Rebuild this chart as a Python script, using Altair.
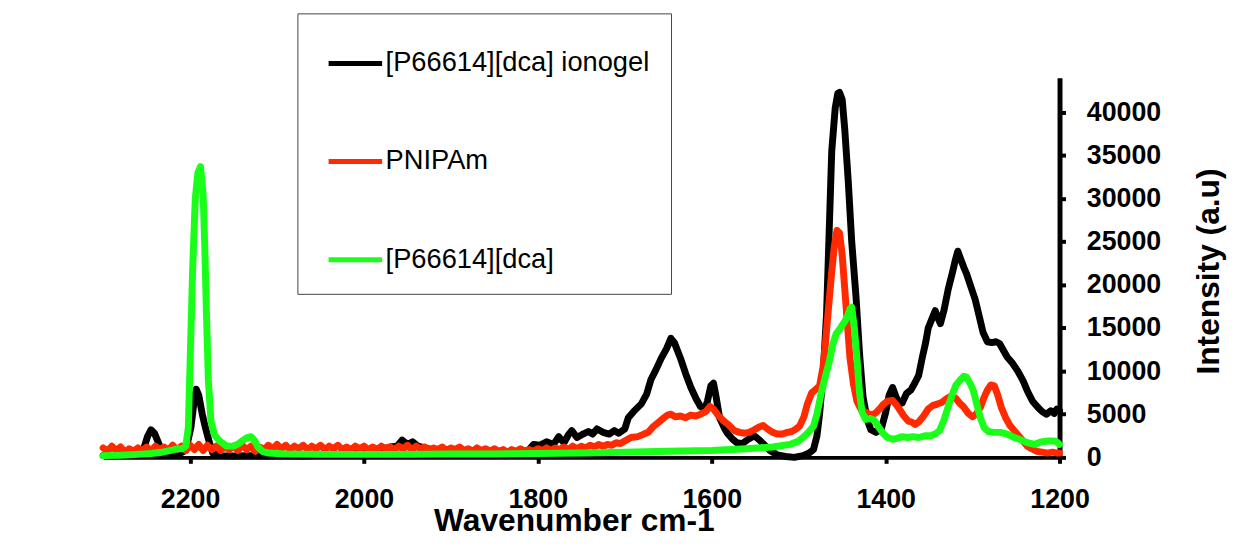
import altair as alt
import pandas as pd

series_names = ["[P66614][dca] ionogel", "PNIPAm", "[P66614][dca]"]
series_colors = ["#000000", "#ff2a00", "#19ff19"]

ionogel_wn = [2300, 2290, 2280, 2270, 2260, 2254, 2249, 2245, 2241, 2236, 2231, 2226, 2215, 2205,
              2199, 2196, 2193, 2190, 2186, 2182, 2178, 2174, 2165, 2150, 2130, 2110, 2090, 2070,
              2050, 2030, 2015, 2007, 2000, 1990, 1980, 1970, 1962, 1956, 1950, 1944, 1938, 1930,
              1922, 1913, 1900, 1880, 1860, 1840, 1820, 1810, 1805, 1798, 1790, 1782, 1776, 1770,
              1765, 1761, 1755, 1748, 1742, 1737, 1732, 1725, 1718, 1712, 1707, 1700, 1696, 1690,
              1681, 1675, 1670, 1664, 1658, 1652, 1647, 1643, 1636, 1630, 1624, 1618, 1613, 1608,
              1605, 1601, 1598, 1595, 1591, 1586, 1582, 1576, 1571, 1565, 1558, 1551, 1545, 1540,
              1533, 1525, 1515, 1505, 1495, 1488, 1483, 1479, 1476, 1472, 1468, 1465, 1462, 1458,
              1455, 1453, 1450, 1447, 1443, 1439, 1434, 1430, 1426, 1421, 1417, 1411, 1405, 1400,
              1396, 1392, 1388, 1384, 1381, 1376, 1371, 1366, 1362, 1358, 1354, 1351, 1347, 1343,
              1340, 1337, 1333, 1328, 1323, 1320, 1317, 1313, 1310, 1307, 1302, 1297, 1292, 1288,
              1283, 1278, 1273, 1269, 1264, 1260, 1254, 1248, 1242, 1237, 1231, 1225, 1220, 1215,
              1210, 1206, 1203, 1200]
ionogel_int = [200, 150, 250, 200, 300, 800, 2400, 3200, 2800, 1600, 300, 200, 300, 800,
               3500, 6000, 7900, 7200, 5000, 3300, 1800, 500, 200, 150, 200, 150, 200, 150,
               250, 300, 700, 1100, 800, 1000, 900, 1200, 1300, 2000, 1500, 1800, 1300, 1100,
               900, 700, 500, 400, 400, 450, 500, 900, 1500, 1400, 1800, 1500, 2400, 1700,
               2600, 3100, 2300, 2700, 3000, 2700, 3300, 2900, 2700, 3100, 2800, 3300, 4600, 5300,
               6200, 7300, 9000, 10200, 11500, 12600, 13800, 13300, 11500, 9700, 8100, 6800, 5900, 5600,
               6500, 8300, 8600, 7000, 4600, 3500, 2800, 2100, 1700, 1600, 2100, 2500, 2000, 1500,
               800, 300, 100, 0, 200, 500, 900, 2500, 5000, 9500, 16500, 26000, 35500, 40500,
               42200, 42300, 41500, 38000, 32000, 25000, 18500, 12000, 7000, 4300, 3200, 2900, 3300, 5200,
               7200, 8100, 7000, 6200, 6300, 7400, 7800, 8700, 9500, 11500, 13300, 15000, 16000, 17000,
               16200, 15500, 17000, 19500, 21500, 22800, 23900, 22800, 22000, 21300, 19800, 18300, 16200, 14500,
               13400, 13300, 13400, 13200, 12300, 11600, 10900, 10000, 8900, 7700, 6500, 5800, 5300, 5000,
               5400, 5100, 5600, 5400]

pnipam_wn = [2300, 2295, 2290, 2285, 2280, 2275, 2270, 2265, 2260, 2255, 2250, 2245, 2240, 2235,
             2230, 2225, 2220, 2215, 2210, 2205, 2200, 2195, 2190, 2185, 2180, 2175, 2170, 2165,
             2160, 2155, 2150, 2145, 2140, 2135, 2130, 2125, 2120, 2115, 2110, 2105, 2100, 2095,
             2090, 2085, 2080, 2075, 2070, 2065, 2060, 2055, 2050, 2045, 2040, 2035, 2030, 2025,
             2020, 2015, 2010, 2005, 2000, 1995, 1990, 1985, 1980, 1975, 1970, 1965, 1960, 1955,
             1950, 1945, 1940, 1935, 1930, 1925, 1920, 1915, 1910, 1905, 1900, 1895, 1890, 1885,
             1880, 1875, 1870, 1865, 1860, 1855, 1850, 1845, 1840, 1835, 1830, 1825, 1820, 1815,
             1810, 1805, 1800, 1795, 1790, 1785, 1780, 1775, 1770, 1765, 1760, 1755, 1750, 1745,
             1740, 1735, 1730, 1725, 1720, 1715, 1710, 1705, 1700, 1693,
             1685, 1678, 1673, 1668, 1662, 1656, 1651, 1647, 1642, 1636, 1630, 1624, 1618, 1613,
             1607, 1602, 1598, 1593, 1587, 1580, 1574, 1568, 1562, 1557, 1551, 1546, 1541, 1536,
             1530, 1525, 1519, 1513, 1508, 1503, 1499, 1494, 1490, 1485, 1480, 1476, 1472, 1469,
             1466, 1462, 1459, 1456, 1453, 1450, 1447, 1444, 1441, 1437, 1433, 1428, 1422, 1417,
             1412, 1407, 1403, 1398, 1392, 1387, 1383, 1379, 1374, 1370, 1366, 1362, 1357, 1351,
             1346, 1340, 1335, 1330, 1325, 1320, 1315, 1310, 1305, 1300, 1296, 1291, 1287, 1283,
             1279, 1275, 1271, 1267, 1262, 1257, 1252, 1247, 1242, 1237, 1232, 1226, 1220, 1214,
             1208, 1203, 1200]
pnipam_int = [1100, 700, 1300, 800, 1200, 600, 1000, 700, 1100, 800, 1200, 700, 1300, 900,
              1200, 800, 1400, 900, 1300, 800, 1400, 900, 1500, 800, 1400, 900, 1300, 800,
              1200, 900, 1300, 800, 1400, 900, 1300, 700, 1200, 900, 1400, 1000, 1500, 1000,
              1400, 900, 1300, 1000, 1400, 900, 1300, 1000, 1400, 900, 1300, 1000, 1400, 900,
              1200, 900, 1300, 1000, 1300, 900, 1200, 900, 1300, 1000, 1200, 900, 1300, 1000,
              1400, 900, 1300, 1000, 1200, 800, 1100, 900, 1200, 800, 1100, 900, 1200, 800,
              1000, 700, 1100, 800, 1000, 700, 1000, 700, 900, 600, 900, 700, 1000, 700,
              900, 700, 1000, 800, 1100, 800, 1100, 900, 1200, 900, 1300, 1000, 1300, 1100,
              1400, 1200, 1500, 1300, 1500, 1400, 1700, 1600, 1900, 2300,
              2400, 2700, 2900, 3500, 4000, 4500, 4900, 5000, 4700, 4800, 4600, 4900, 4800, 5000,
              5300, 5900, 5600, 4900, 4300, 3700, 3100, 2900, 2800, 2900, 3200, 3500, 3700, 3300,
              2900, 2700, 2700, 2900, 3000, 3300, 3600, 4700, 6200, 7500, 7900, 8300, 10500, 13500,
              17000, 21500, 24500, 26300, 26000, 23500, 19500, 15500, 11500, 8500, 6500, 5500, 5200, 4900,
              5100, 5600, 6100, 6500, 6600, 6000, 5400, 4800, 4200, 4100, 3800, 4100, 4700, 5600,
              6000, 6200, 6400, 6800, 7100, 6900, 6300, 5800, 5100, 4700, 5000, 5800, 6900, 7800,
              8400, 8300, 7200, 5800, 4600, 3700, 3100, 2500, 1900, 1300, 1000, 700, 600, 500,
              600, 500, 500]

ionic_wn = [2300, 2280, 2260, 2245, 2232, 2222, 2215, 2209, 2205, 2202, 2200, 2197, 2194, 2191,
            2188, 2185, 2183, 2181, 2179, 2176, 2172, 2166, 2158, 2150, 2144, 2139, 2134, 2130,
            2126, 2122, 2117, 2110, 2090, 2050, 2000, 1950, 1900, 1850, 1800, 1750, 1700, 1650,
            1600, 1560, 1530, 1510, 1500, 1494, 1488, 1483, 1479, 1474, 1469, 1465, 1461, 1457,
            1452, 1448, 1444, 1441, 1439, 1436, 1433, 1430, 1427, 1423, 1418, 1413, 1408, 1403,
            1398, 1392, 1387, 1381, 1375, 1369, 1362, 1355, 1348, 1343, 1338, 1333, 1328, 1323,
            1319, 1314, 1310, 1307, 1303, 1299, 1295, 1291, 1287, 1282, 1276, 1268, 1260, 1252,
            1244, 1237, 1229, 1221, 1213, 1206, 1202, 1200]
ionic_int = [200, 250, 350, 450, 600, 800, 1000, 1000, 1300, 3500, 11000, 22000, 30000, 33000,
             33700, 30500, 24000, 16000, 9000, 4200, 2600, 1900, 1300, 1300, 1600, 2000, 2300, 2400,
             2000, 1200, 700, 500, 400, 350, 350, 350, 400, 400, 450, 500, 600, 700,
             800, 1000, 1200, 1500, 1900, 2400, 3000, 3600, 5000, 7500, 9500, 11000, 13000, 14300,
             15000, 15600, 16300, 17200, 17400, 15000, 11500, 7500, 5200, 4400, 4500, 4300, 3500, 2800,
             2300, 2100, 2200, 2400, 2300, 2400, 2300, 2500, 2500, 2700, 3100, 4300, 5900, 7400,
             8400, 9000, 9400, 9300, 8600, 7700, 6100, 4600, 3500, 3000, 2900, 2900, 2700, 2300,
             2000, 1700, 1500, 1800, 1900, 1900, 1700, 1500]

x_ticks = [2200, 2000, 1800, 1600, 1400, 1200]
y_ticks = [0, 5000, 10000, 15000, 20000, 25000, 30000, 35000, 40000]

rows = []
for name, wns, vals in zip(series_names, [ionogel_wn, pnipam_wn, ionic_wn],
                           [ionogel_int, pnipam_int, ionic_int]):
    for w, v in zip(wns, vals):
        rows.append({"series": name, "wavenumber": w, "intensity": v})
df = pd.DataFrame(rows)

FONT = "Liberation Sans"

x_enc = alt.X(
    "wavenumber:Q",
    scale=alt.Scale(domain=[1200, 2300], reverse=True, nice=False, zero=False),
    axis=alt.Axis(
        values=x_ticks, format="d", title="Wavenumber cm-1", grid=False,
        domainColor="black", domainWidth=4, tickColor="black", tickWidth=4, tickSize=6,
        labelFont=FONT, labelFontSize=27, labelFontWeight="bold", labelColor="black",
        labelPadding=24, labelFlush=False,
        titleFont=FONT, titleFontSize=32, titleFontWeight="bold", titleColor="black",
        titleX=475, titleY=74, titleBaseline="alphabetic",
    ),
)
y_enc = alt.Y(
    "intensity:Q",
    scale=alt.Scale(domain=[0, 44000], nice=False),
    axis=alt.Axis(
        orient="right", values=y_ticks, format="d", title="Intensity (a.u)", grid=False,
        domainColor="black", domainWidth=5, tickColor="black", tickWidth=4, tickSize=6,
        labelFont=FONT, labelFontSize=27, labelFontWeight="bold", labelColor="black",
        labelPadding=21, labelFlush=False,
        titleFont=FONT, titleFontSize=32, titleFontWeight="bold", titleColor="black",
        titleAngle=270, titleX=160, titleY=195, titleBaseline="alphabetic",
    ),
)
color_enc = alt.Color(
    "series:N",
    scale=alt.Scale(domain=series_names, range=series_colors),
    legend=alt.Legend(
        title=None, orient="none", legendX=196, legendY=-65, direction="vertical",
        strokeColor="#444444", fillColor="white", padding=21,
        symbolType="stroke", symbolSize=2916, symbolStrokeWidth=5, symbolOffset=8,
        labelFont=FONT, labelFontSize=27.5, labelColor="black", labelOffset=1,
        labelLimit=500, rowPadding=56,
    ),
)

layers = []
for name in series_names:
    layers.append(
        alt.Chart(df)
        .transform_filter(alt.datum.series == name)
        .mark_line(strokeWidth=7, strokeJoin="round", strokeCap="round")
        .encode(x=x_enc, y=y_enc, color=color_enc)
    )

chart = (
    alt.layer(*layers)
    .properties(width=965, height=383,
                padding={"left": 92, "top": 2, "right": 5, "bottom": 5},
                background="white")
    .configure_view(stroke=None)
)

chart.save("out.html", embed_options={"renderer": "svg", "actions": False})
